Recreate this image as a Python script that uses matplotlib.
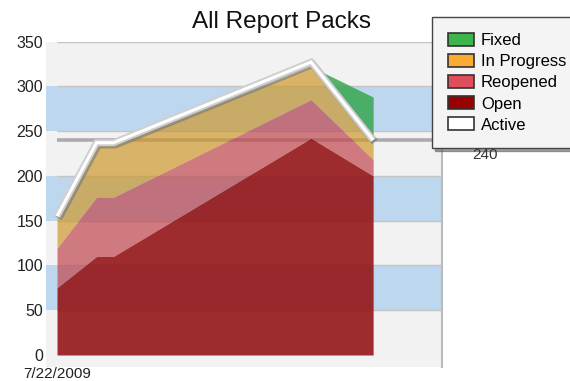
import numpy as np
import matplotlib
matplotlib.use("Agg")
import matplotlib.pyplot as plt
import matplotlib.patheffects as pe
from matplotlib.patches import Patch

plt.rcParams['font.family'] = ['Liberation Sans', 'DejaVu Sans']

# ---- data ----
days = [0, 7, 10, 45, 56]            # days since 7/22/2009
open_vals = [75, 110, 110, 242, 200]
reopened_vals = [44, 66, 66, 43, 18]
in_progress_vals = [34, 58, 58, 37, 22]
fixed_vals = [0, 0, 0, 0, 48]
active_vals = [155, 237, 237, 327, 240]
ref_value = 240
y_ticks = [0, 50, 100, 150, 200, 250, 300, 350]
x_tick_label = "7/22/2009"
title = "All Report Packs"
legend_labels = ["Fixed", "In Progress", "Reopened", "Open", "Active"]
legend_colors = ["#3DB54A", "#FBAA33", "#E04E5E", "#990000", "#FFFFFF"]

# ---- figure ----
W, H = 570, 381
fig = plt.figure(figsize=(W / 100, H / 100), dpi=100)
ax = fig.add_axes([46 / W, 1 - 367 / H, (442 - 46) / W, (367 - 41.5) / H])

xmin, xmax = -1.95, 68.2
ax.set_xlim(xmin, xmax)
ax.set_ylim(-13.4, 350)
ax.set_facecolor("#F2F2F2")

# alternating bands
for lo in (50, 150, 250):
    ax.axhspan(lo, lo + 50, color="#BDD7EE", zorder=0, lw=0)
# grid lines
ax.hlines(y_ticks[1:], 0, xmax, colors="#C4C4C4", lw=1.0, zorder=1)
# reference line
ax.hlines(ref_value, 0, xmax, colors="#ABABAB", lw=2.6, zorder=1.5)

# stacked areas
x = np.array(days)
base0 = np.zeros(len(x))
top_open = base0 + np.array(open_vals)
top_reopened = top_open + np.array(reopened_vals)
top_inprog = top_reopened + np.array(in_progress_vals)
top_fixed = top_inprog + np.array(fixed_vals)

ax.fill_between(x, top_inprog, top_fixed, color="#32A54B", alpha=0.82, lw=0, zorder=2)
ax.fill_between(x, top_reopened, top_inprog, color="#CD992D", alpha=0.7, lw=0, zorder=2)
ax.fill_between(x, top_open, top_reopened, color="#C1484F", alpha=0.7, lw=0, zorder=2)
ax.fill_between(x, base0, top_open, color="#951517", alpha=0.9, lw=0, zorder=2)

# active line
ax.plot(x, active_vals, color="white", lw=2.2, solid_joinstyle="miter",
        solid_capstyle="butt", zorder=3,
        path_effects=[pe.SimpleLineShadow(offset=(1.2, -1.5), shadow_color="#777777",
                                          alpha=0.6, linewidth=5.4),
                      pe.Stroke(linewidth=5.0, foreground="#CFCFCF"),
                      pe.Normal()])

# axes styling
for s in ("top", "left", "bottom"):
    ax.spines[s].set_visible(False)
ax.spines["right"].set_color("#BBBBBB")
ax.spines["right"].set_linewidth(1.5)
ax.set_yticks(y_ticks)
ax.set_yticklabels([str(v) for v in y_ticks], fontsize=11.5, color="#222222")
ax.tick_params(axis="y", length=0, pad=2)
ax.set_xticks([0])
ax.set_xticklabels([x_tick_label], fontsize=11, color="#222222")
ax.tick_params(axis="x", length=0, pad=0)

fig.text(281 / W, 1 - 28 / H, title, ha="center", va="baseline", fontsize=17.5, color="#111111")

# reference value label
fig.text(485 / W, 1 - 155 / H, str(ref_value), ha="center", va="center", fontsize=11, color="#333333", zorder=1)

handles = [Patch(facecolor=c, edgecolor="#333333", lw=1.2) for c in legend_colors]
leg = ax.legend(handles, legend_labels, loc="upper left",
                bbox_to_anchor=(432 / W, 1 - 17 / H), bbox_transform=fig.transFigure,
                borderaxespad=0, fontsize=12, handlelength=1.56, handleheight=0.85,
                handletextpad=0.42, labelspacing=0.34, borderpad=0.95,
                fancybox=False, shadow=True, framealpha=1)
leg.get_frame().set_facecolor("#F4F4F4")
leg.get_frame().set_edgecolor("#444444")
leg.get_frame().set_linewidth(1.0)
leg.set_zorder(10)

fig.savefig("out.png", dpi=100)
